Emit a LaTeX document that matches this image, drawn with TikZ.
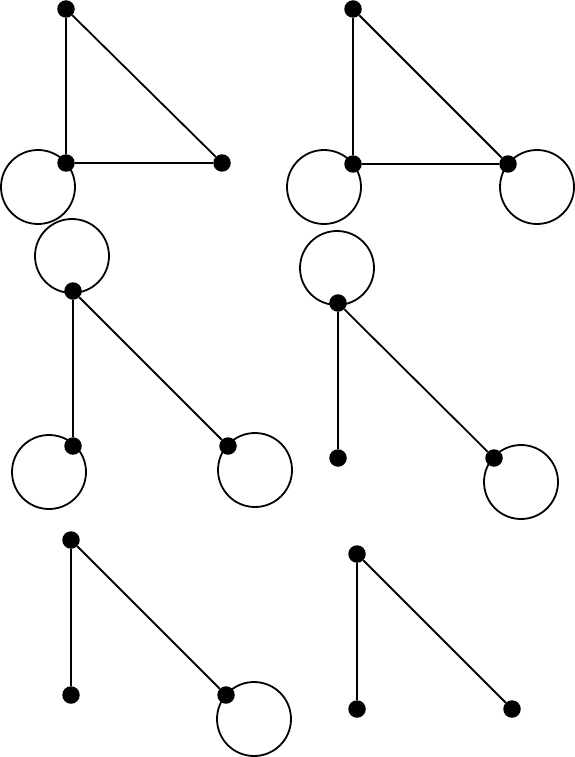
\documentclass[tikz,border=0pt]{standalone}
\usetikzlibrary{backgrounds}
\begin{document}
\begin{tikzpicture}[x=1pt,y=-1pt,
  vtx/.style={circle,fill=black,draw=none,inner sep=0pt,minimum size=17.5pt},
  edge/.style={line width=1.8pt},
  loopc/.style={line width=1.8pt}]
\useasboundingbox (0,0) rectangle (575,757);
% graph 1
\node[vtx] (a1) at (66,9) {};
\node[vtx] (b1) at (66,163) {};
\node[vtx] (c1) at (222,163) {};
\draw[edge] (a1) -- (b1);
\draw[edge] (a1) -- (c1);
\draw[edge] (b1) -- (c1);
% graph 2
\node[vtx] (a2) at (353,9) {};
\node[vtx] (b2) at (353,164) {};
\node[vtx] (c2) at (508,164) {};
\draw[edge] (a2) -- (b2);
\draw[edge] (a2) -- (c2);
\draw[edge] (b2) -- (c2);
% graph 3
\node[vtx] (a3) at (73,291) {};
\node[vtx] (b3) at (73,446) {};
\node[vtx] (c3) at (228,446) {};
\draw[edge] (a3) -- (b3);
\draw[edge] (a3) -- (c3);
% graph 4
\node[vtx] (a4) at (338,303) {};
\node[vtx] (b4) at (338,458) {};
\node[vtx] (c4) at (494,458) {};
\draw[edge] (a4) -- (b4);
\draw[edge] (a4) -- (c4);
% graph 5
\node[vtx] (a5) at (71,540) {};
\node[vtx] (b5) at (71,695) {};
\node[vtx] (c5) at (226,695) {};
\draw[edge] (a5) -- (b5);
\draw[edge] (a5) -- (c5);
% graph 6
\node[vtx] (a6) at (357,554) {};
\node[vtx] (b6) at (357,709) {};
\node[vtx] (c6) at (512,709) {};
\draw[edge] (a6) -- (b6);
\draw[edge] (a6) -- (c6);
% loops
\begin{scope}[on background layer]
\draw[loopc] (b1.center) ++(-28,24) circle[radius=37pt];
\draw[loopc] (b2.center) ++(-29,23) circle[radius=37pt];
\draw[loopc] (c2.center) ++(29,23) circle[radius=37pt];
\draw[loopc] (a3.center) ++(-1,-35) circle[radius=37pt];
\draw[loopc] (b3.center) ++(-24,26) circle[radius=37pt];
\draw[loopc] (c3.center) ++(27,24) circle[radius=37pt];
\draw[loopc] (a4.center) ++(-1,-35) circle[radius=37pt];
\draw[loopc] (c4.center) ++(27,24) circle[radius=37pt];
\draw[loopc] (c5.center) ++(28,24) circle[radius=37pt];
\end{scope}
\end{tikzpicture}
\end{document}
